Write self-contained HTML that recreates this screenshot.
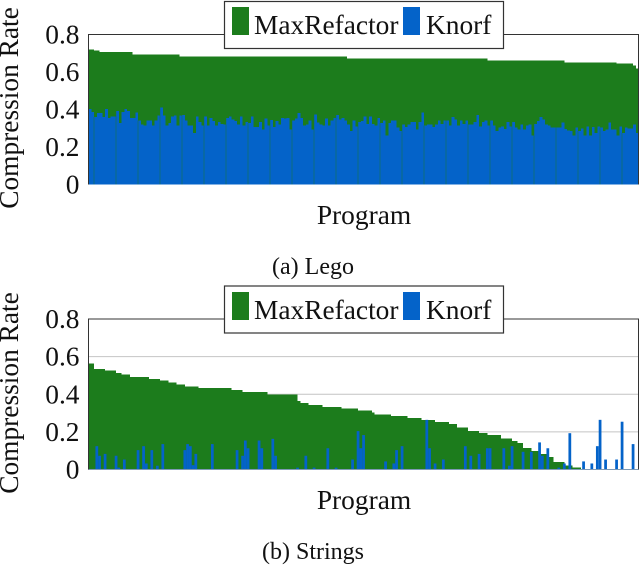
<!DOCTYPE html>
<html>
<head>
<meta charset="utf-8">
<style>
html,body{margin:0;padding:0;background:#fff;width:640px;height:565px;overflow:hidden}
svg{display:block;filter:blur(0.3px)}
text{font-family:"Liberation Serif",serif;fill:#111}
.t{font-size:27.4px}
.c{font-size:24px}
</style>
</head>
<body>
<svg id="chart" width="640" height="565" viewBox="0 0 640 565" xmlns="http://www.w3.org/2000/svg">
  <g id="lego"></g>
  <g id="strings"></g>

  <text class="t" x="364" y="224" text-anchor="middle">Program</text>
  <text class="t" x="-108" y="18" transform="rotate(-90)" text-anchor="middle">Compression Rate</text>
  <text class="c" x="313" y="274" text-anchor="middle">(a) Lego</text>

  <text class="t" x="364" y="509" text-anchor="middle">Program</text>
  <text class="t" x="-393" y="18" transform="rotate(-90)" text-anchor="middle">Compression Rate</text>
  <text class="c" x="313" y="559" text-anchor="middle">(b) Strings</text>

  <g>
    <rect x="224.5" y="1.5" width="279" height="47" fill="#fff" stroke="#333" stroke-width="1.2"/>
    <rect x="232" y="7" width="17" height="28" fill="#1c7c1c"/>
    <text class="t" x="254" y="34">MaxRefactor</text>
    <rect x="403" y="7" width="17" height="28" fill="#0463c9"/>
    <text class="t" x="426" y="34">Knorf</text>
  </g>
  <g>
    <rect x="224.5" y="286" width="279" height="47" fill="#fff" stroke="#333" stroke-width="1.2"/>
    <rect x="232" y="292" width="17" height="28" fill="#1c7c1c"/>
    <text class="t" x="254" y="319">MaxRefactor</text>
    <rect x="403" y="292" width="17" height="28" fill="#0463c9"/>
    <text class="t" x="426" y="319">Knorf</text>
  </g>
</svg>
<script>
const tickValues = [0, 0.2, 0.4, 0.6, 0.8];
const tickLabels = ["0", "0.2", "0.4", "0.6", "0.8"];

const legoMaxRefactor = [
.72,.72,.715,.715,.706,.706,.706,.706,.706,.706,
.706,.706,.706,.706,.706,.706,.694,.694,.694,.694,
.694,.694,.694,.694,.694,.694,.694,.694,.694,.694,
.694,.694,.694,.683,.683,.683,.683,.683,.683,.683,
.683,.683,.683,.683,.683,.683,.683,.683,.683,.683,
.683,.683,.683,.683,.683,.683,.683,.683,.683,.683,
.683,.683,.683,.683,.683,.683,.683,.683,.683,.683,
.683,.683,.683,.683,.683,.683,.683,.683,.683,.683,
.683,.683,.683,.683,.683,.683,.683,.683,.683,.683,
.683,.683,.683,.683,.671,.671,.671,.671,.671,.671,
.671,.671,.671,.671,.671,.671,.671,.671,.671,.671,
.671,.671,.671,.671,.671,.671,.671,.671,.671,.671,
.671,.671,.671,.671,.671,.671,.671,.671,.671,.671,
.671,.671,.671,.671,.671,.671,.671,.671,.671,.671,
.671,.671,.671,.671,.671,.662,.662,.662,.662,.662,
.662,.662,.662,.662,.662,.662,.662,.662,.662,.662,
.662,.662,.662,.662,.662,.662,.662,.662,.662,.662,
.662,.662,.662,.652,.652,.652,.652,.652,.652,.652,
.652,.652,.652,.652,.652,.652,.652,.652,.652,.652,
.652,.652,.645,.645,.645,.645,.645,.645,.634,.62
];
const legoKnorf = [
.404,.387,.36,.381,.381,.36,.404,.356,.363,.363,
.392,.328,.387,.402,.392,.356,.356,.385,.342,.321,
.314,.342,.342,.316,.342,.369,.41,.369,.316,.328,
.363,.369,.316,.369,.372,.342,.314,.314,.275,.362,
.333,.314,.362,.314,.355,.339,.314,.333,.324,.321,
.356,.362,.346,.339,.321,.362,.314,.333,.328,.362,
.307,.307,.333,.293,.353,.314,.344,.307,.339,.321,
.355,.351,.355,.293,.342,.353,.381,.356,.314,.321,
.342,.293,.374,.33,.321,.316,.351,.314,.342,.356,
.372,.346,.355,.342,.321,.285,.342,.31,.333,.339,
.362,.324,.362,.324,.314,.355,.328,.342,.262,.328,
.342,.342,.303,.285,.321,.307,.321,.333,.333,.293,
.333,.383,.314,.321,.321,.307,.321,.342,.324,.342,
.342,.314,.36,.346,.316,.342,.324,.342,.321,.321,
.333,.372,.31,.333,.342,.314,.342,.314,.285,.303,
.31,.296,.333,.31,.333,.303,.293,.321,.293,.314,
.321,.262,.324,.339,.36,.346,.321,.314,.303,.303,
.303,.303,.332,.296,.289,.285,.262,.303,.285,.298,
.262,.31,.262,.307,.275,.31,.303,.285,.293,.332,
.293,.293,.262,.31,.275,.303,.298,.298,.321,.275
];
const stringsMaxRefactor = [
.564,.564,.534,.534,.534,.534,.525,.525,.525,.525,
.514,.514,.504,.504,.504,.493,.493,.493,.493,.493,
.493,.493,.482,.482,.482,.482,.473,.473,.473,.463,
.463,.463,.452,.452,.452,.441,.441,.441,.441,.441,
.433,.433,.433,.433,.433,.433,.433,.433,.433,.433,
.433,.433,.422,.422,.422,.422,.411,.411,.411,.411,
.411,.411,.411,.411,.411,.40,.40,.40,.40,.40,
.40,.40,.40,.40,.40,.40,.365,.353,.353,.353,
.344,.344,.344,.344,.344,.333,.333,.333,.333,.333,
.333,.333,.324,.324,.324,.324,.324,.324,.314,.314,
.314,.314,.314,.303,.293,.293,.293,.293,.293,.293,
.284,.284,.284,.284,.284,.284,.273,.273,.273,.273,
.273,.262,.262,.262,.262,.262,.252,.252,.252,.252,
.252,.243,.243,.243,.222,.222,.222,.222,.204,.204,
.204,.204,.193,.193,.193,.184,.184,.184,.184,.184,
.165,.165,.165,.165,.152,.152,.142,.142,.113,.113,
.113,.099,.099,.099,.082,.082,.082,.067,.067,.041,
.041,.041,.041,.021,.021,.021,.011,.011,.011,0,
0,0,0,0,0,0,0,0,0,0,
0,0,0,0,0,0,0,0,0,0
];
const stringsKnorf = [
0,0,0,.124,.073,0,.083,0,0,0,
.073,.01,0,.053,0,0,0,0,.103,0,
.124,.032,0,.103,0,.02,0,.135,0,0,
0,0,0,0,0,.103,.135,.124,.023,.083,
0,0,0,0,0,.135,0,0,0,0,
0,0,0,0,.103,0,.073,.154,.113,0,
0,0,.154,.113,0,0,0,.163,.073,0,
0,0,0,0,0,0,.01,0,0,.073,
0,0,.01,0,0,0,0,.113,0,0,
.01,0,0,0,0,0,.053,0,.204,.113,
.183,0,0,0,0,0,0,0,.043,0,
0,.032,.103,0,.124,0,0,0,0,0,
0,0,0,.264,.113,0,.032,0,0,.053,
0,0,0,0,0,0,0,.124,0,.073,
0,0,.083,0,0,.113,.113,0,0,0,
0,.113,0,.02,.124,0,0,0,.094,0,
0,.094,0,0,.144,.073,0,.113,0,0,
0,.01,0,.032,0,.193,0,0,0,0,
.043,0,0,.032,0,.124,.264,0,.053,0,
0,0,.053,0,.254,0,0,0,.135,0
];

const SVG_NS = "http://www.w3.org/2000/svg";
const PLOT_LEFT = 88.5, PLOT_RIGHT = 638.5, Y_MAX = 0.8, GREEN = "#1c7c1c", BLUE = "#0463c9";

function drawChart(root, top, bottom, greenValues, blueValues, options) {
  const n = greenValues.length;
  const band = (PLOT_RIGHT - PLOT_LEFT) / n;
  const xScale = i => PLOT_LEFT + i * band;
  const yScale = v => bottom - (v / Y_MAX) * (bottom - top);

  if (options.grid) {
    tickValues.slice(1, -1).forEach(v => {
      const g = document.createElementNS(SVG_NS, "line");
      
      
      g.setAttribute("x1", PLOT_LEFT);
      g.setAttribute("x2", PLOT_RIGHT);
      g.setAttribute("y1", yScale(v));
      g.setAttribute("y2", yScale(v));
      g.setAttribute("stroke", "#c4c4c4");
      g.setAttribute("stroke-width", "1");
      root.appendChild(g);
    });
  }

  greenValues.forEach((v, i) => {
    const r = document.createElementNS(SVG_NS, "rect");
    
    
    r.setAttribute("x", xScale(i));
    r.setAttribute("y", yScale(v));
    r.setAttribute("width", band);
    r.setAttribute("height", bottom - yScale(v));
    r.setAttribute("fill", GREEN);
    r.setAttribute("shape-rendering", "crispEdges");
    root.appendChild(r);
  });

  blueValues.forEach((v, i) => {
    const r = document.createElementNS(SVG_NS, "rect");
    
    
    r.setAttribute("x", xScale(i) + options.offset + options.inset);
    r.setAttribute("y", yScale(v));
    r.setAttribute("width", band - 2 * options.inset);
    r.setAttribute("height", bottom - yScale(v));
    r.setAttribute("fill", BLUE);
    if (options.crisp) {
      r.setAttribute("shape-rendering", "crispEdges");
    }
    root.appendChild(r);
    if (options.seams && i % 8 === 2) {
      const s = document.createElementNS(SVG_NS, "rect");
      
      
      s.setAttribute("x", xScale(i) - 0.3);
      s.setAttribute("y", yScale(v));
      s.setAttribute("width", 0.6);
      s.setAttribute("height", bottom - yScale(v));
      s.setAttribute("fill", "#1c7c1c");
      s.setAttribute("opacity", "0.7");
      root.appendChild(s);
    }
  });

  if (options.baseline) {
    const b = document.createElementNS(SVG_NS, "line");
    
    
    b.setAttribute("x1", PLOT_LEFT);
    b.setAttribute("x2", PLOT_RIGHT);
    b.setAttribute("y1", bottom);
    b.setAttribute("y2", bottom);
    b.setAttribute("stroke", "#7f9ab5");
    b.setAttribute("stroke-width", "1");
    root.appendChild(b);
  }

  const frame = document.createElementNS(SVG_NS, "path");
  
  
  frame.setAttribute("d", "M" + PLOT_LEFT + " " + bottom + "V" + top + "H" + PLOT_RIGHT + "V" + bottom);
  frame.setAttribute("fill", "none");
  frame.setAttribute("stroke", "#333");
  frame.setAttribute("stroke-width", "1");
  root.appendChild(frame);

  tickValues.forEach((v, i) => {
    const t = document.createElementNS(SVG_NS, "text");
    
    
    t.setAttribute("class", "t");
    t.setAttribute("x", 79.5);
    t.setAttribute("y", yScale(v) + 9);
    t.setAttribute("text-anchor", "end");
    t.textContent = tickLabels[i];
    root.appendChild(t);
  });
}

drawChart(document.getElementById("lego"), 34.5, 184.5, legoMaxRefactor, legoKnorf, {grid:false, inset:0, offset:0, crisp:true, seams:true, baseline:false});
drawChart(document.getElementById("strings"), 319, 469.5, stringsMaxRefactor, stringsKnorf, {grid:true, inset:0, offset:-1.3, crisp:false, seams:false, baseline:true});
</script>
</body>
</html>
